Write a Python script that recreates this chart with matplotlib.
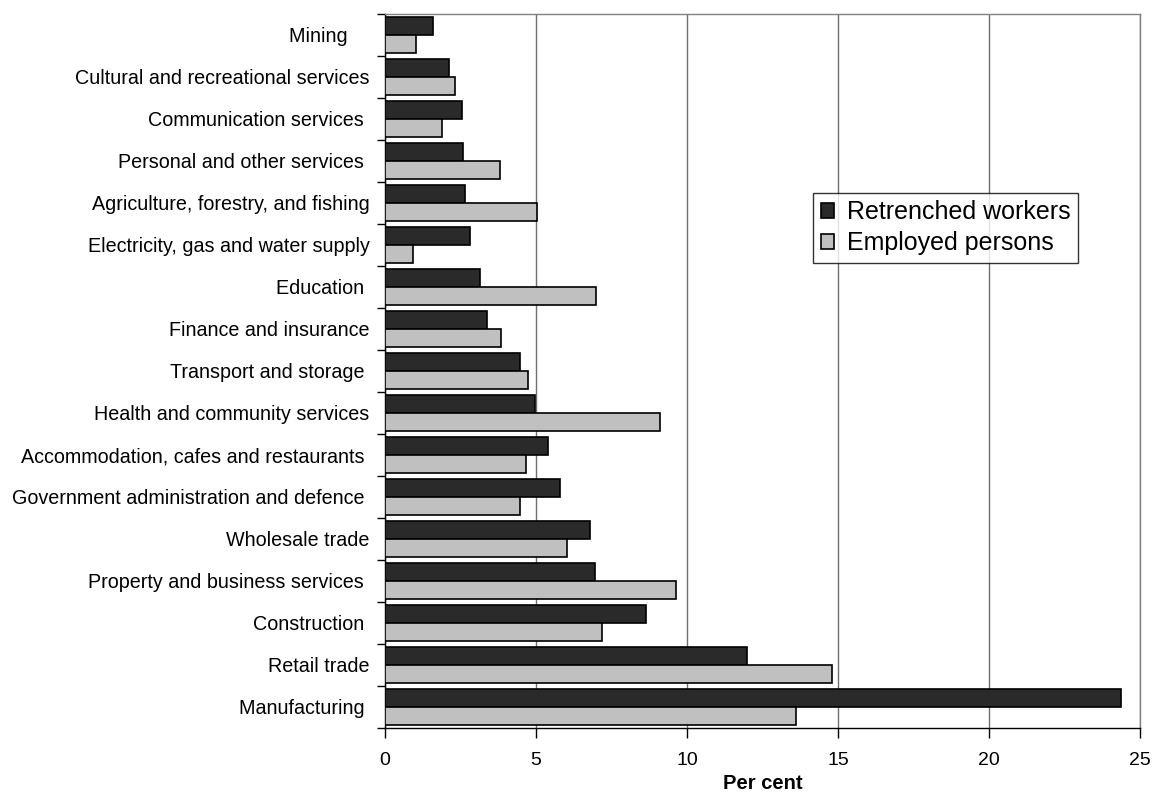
import matplotlib
matplotlib.use("Agg")
import matplotlib.pyplot as plt
import numpy as np

plt.rcParams['font.family'] = ['Liberation Sans', 'DejaVu Sans']

categories = [
    "Mining    ",
    "Cultural and recreational services",
    "Communication services ",
    "Personal and other services ",
    "Agriculture, forestry, and fishing",
    "Electricity, gas and water supply",
    "Education ",
    "Finance and insurance",
    "Transport and storage ",
    "Health and community services",
    "Accommodation, cafes and restaurants ",
    "Government administration and defence ",
    "Wholesale trade",
    "Property and business services ",
    "Construction ",
    "Retail trade",
    "Manufacturing ",
]
retrenched = [1.60, 2.13, 2.56, 2.57, 2.64, 2.83, 3.13, 3.37, 4.46, 4.96,
              5.41, 5.78, 6.78, 6.96, 8.64, 11.98, 24.37]
employed = [1.04, 2.32, 1.90, 3.80, 5.04, 0.94, 6.98, 3.84, 4.72, 9.11,
            4.68, 4.47, 6.03, 9.63, 7.20, 14.79, 13.60]
series_names = ["Retrenched workers", "Employed persons"]
xticks = [0, 5, 10, 15, 20, 25]

fig = plt.figure(figsize=(11.54, 7.96), dpi=100)
ax = fig.add_axes([385/1154, 1-728/796, (1140-385)/1154, (728-14)/796])

n = len(categories)
y = np.arange(n)
h = 0.42
ax.barh(y - 0.21, retrenched, height=h, color='#2a2a2a', edgecolor='black',
        linewidth=1.2, label=series_names[0], zorder=3)
ax.barh(y + 0.21, employed, height=h, color='#c0c0c0', edgecolor='black',
        linewidth=1.2, label=series_names[1], zorder=3)

ax.set_xlim(0, 25)
ax.set_ylim(n - 0.5, -0.5)
ax.set_xticks(xticks)
ax.set_xticklabels([str(t) for t in xticks], fontsize=14)
ax.set_yticks(y)
ax.set_yticklabels(categories, fontsize=14.2)
ax.set_yticks(np.arange(n + 1) - 0.5, minor=True)
ax.tick_params(axis='y', which='major', length=0, pad=11)
ax.tick_params(axis='y', which='minor', length=6, width=1, direction='out', color='black')
ax.tick_params(axis='x', which='major', length=7, width=1, direction='out', pad=10)

ax.grid(axis='x', color='#707070', linewidth=1.0, zorder=0)
ax.set_axisbelow(True)
for s in ['top', 'right']:
    ax.spines[s].set_color('#808080')
    ax.spines[s].set_linewidth(1.0)
for s in ['left', 'bottom']:
    ax.spines[s].set_color('black')
    ax.spines[s].set_linewidth(1.0)

ax.set_xlabel("Per cent", fontsize=14.5, fontweight='bold', labelpad=4)

leg = ax.legend(loc='upper left', bbox_to_anchor=((813-385)/755, (728-193)/714),
                fontsize=18, frameon=True, fancybox=False, edgecolor='black',
                handlelength=0.55, handleheight=0.55, handletextpad=0.5,
                borderpad=0.3, labelspacing=0.28, borderaxespad=0)
leg.get_frame().set_linewidth(1.0)

fig.savefig("out.png", dpi=100)
